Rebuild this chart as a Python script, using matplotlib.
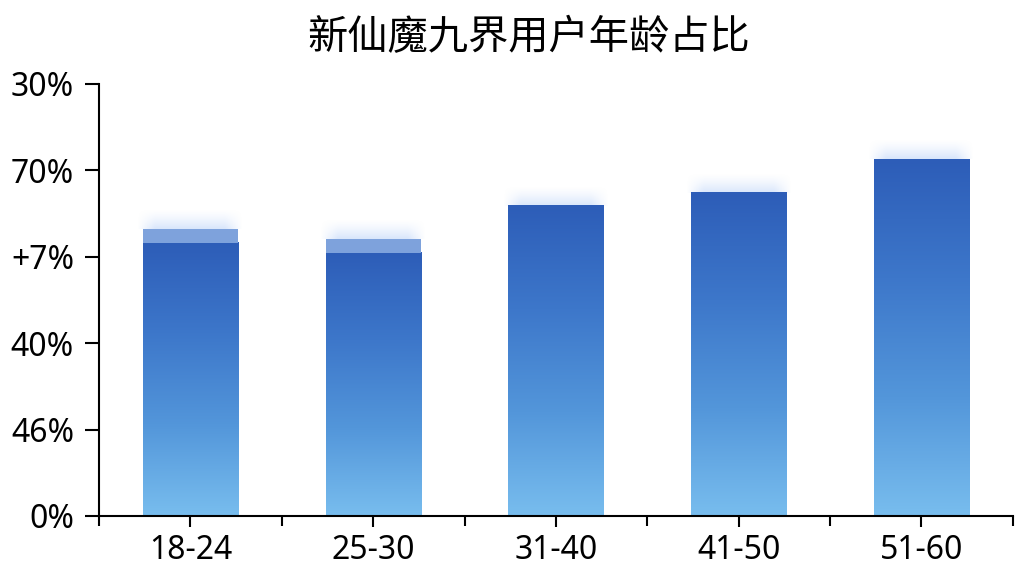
import matplotlib
matplotlib.use("Agg")
import matplotlib.pyplot as plt
import numpy as np
from matplotlib.colors import LinearSegmentedColormap

# 用户年龄占比 - values (axis runs 0..100)
age_groups = ["18-24", "25-30", "31-40", "41-50", "51-60"]
shares = [63.2, 60.9, 71.8, 74.8, 82.6]
cap_extra = [3.2, 3.2, 0.0, 0.0, 0.0]
ytick_values = [0, 20, 40, 60, 80, 100]
ytick_labels = ["0%", "46%", "40%", "+7%", "70%", "30%"]
title = "新仙魔九界用户年龄占比"

plt.rcParams["font.family"] = ["Noto Sans", "DejaVu Sans"]

fig = plt.figure(figsize=(10.24, 5.76), dpi=100)
ax = fig.add_axes([0.0967, 0.1042, 0.8923, 0.7500])

bar_cmap = LinearSegmentedColormap.from_list(
    "bar", ["#78bdee", "#5396da", "#3d77ca", "#2d5db8"])
grad = np.linspace(0, 1, 256).reshape(-1, 1)
width = 0.52

x = np.arange(len(age_groups))
for xi, v, cap in zip(x, shares, cap_extra):
    left, right = xi - width / 2, xi + width / 2
    ax.imshow(grad, cmap=bar_cmap, origin="lower", aspect="auto",
              extent=[left, right, 0, v], zorder=2, interpolation="bicubic")
    top = v
    if cap > 0:
        ax.bar(xi, cap, bottom=v, width=width, color="#7ea2dc", zorder=2,
               linewidth=0)
        top = v + cap
    # soft glow above each bar
    gh = 4.5
    vert = np.linspace(1, 0, 64) ** 1.4
    horiz = np.clip(np.minimum(np.linspace(0, 1, 64), np.linspace(1, 0, 64)) * 6, 0, 1)
    alpha = np.outer(vert, horiz) * 0.45
    rgba = np.zeros((64, 64, 4))
    rgba[..., 0] = 0.66
    rgba[..., 1] = 0.78
    rgba[..., 2] = 0.97
    rgba[..., 3] = alpha
    ax.imshow(rgba, origin="lower", aspect="auto",
              extent=[left - 0.03, right + 0.03, top, top + gh], zorder=1)

ax.set_xlim(-0.5, len(age_groups) - 0.5)
ax.set_ylim(0, 100)

ax.set_xticks(x)
ax.set_xticklabels(age_groups, fontsize=23)
ax.set_xticks(np.arange(-0.5, len(age_groups)), minor=True)
ax.set_yticks(ytick_values)
ax.set_yticklabels(ytick_labels, fontsize=23)

ax.tick_params(axis="x", which="major", length=8, width=1.5, pad=5)
ax.tick_params(axis="x", which="minor", length=7, width=1.5)
ax.tick_params(axis="y", length=10, width=1.5, pad=8)

for side in ["top", "right"]:
    ax.spines[side].set_visible(False)
for side in ["left", "bottom"]:
    ax.spines[side].set_linewidth(1.5)

fig.text(0.516, 0.935, title, ha="center", va="center", fontsize=29,
         family=["Noto Sans CJK SC", "DejaVu Sans"])

fig.savefig("out.png", dpi=100)
